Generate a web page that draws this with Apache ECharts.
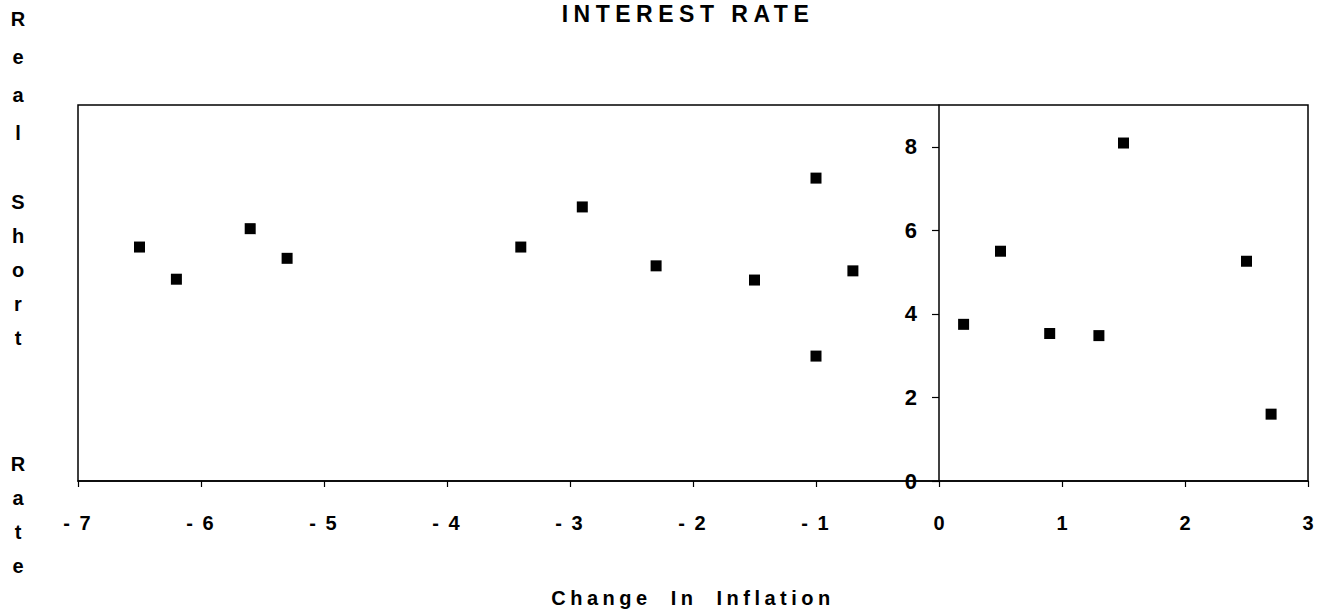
<!DOCTYPE html>
<html>
<head>
<meta charset="utf-8">
<script src="https://cdn.jsdelivr.net/npm/echarts@6/dist/echarts.min.js"></script>
<style>
  html, body { margin: 0; padding: 0; background: #fff; }
  #chart { width: 1321px; height: 613px; }
</style>
</head>
<body>
<div id="chart"></div>
<script>
const inflationChange = [-6.5, -6.2, -5.6, -5.3, -3.4, -2.9, -2.3, -1.5, -1.0, -1.0, -0.7, 0.2, 0.5, 0.9, 1.3, 1.5, 2.5, 2.7];
const realShortRate = [5.6, 4.83, 6.04, 5.33, 5.6, 6.56, 5.15, 4.81, 7.25, 2.99, 5.03, 3.75, 5.5, 3.53, 3.48, 8.09, 5.26, 1.6];

const titleText = 'INTEREST RATE';
const xName = 'Change In Inflation';
const yNameParts = ['R\ne\na\nl', 'S\nh\no\nr\nt', 'R\na\nt\ne'];

const font = 'Liberation Sans, Arial, Helvetica, sans-serif';

let points = [];
for (let i = 0; i < inflationChange.length; i++) {
  points.push([inflationChange[i], realShortRate[i]]);
}

var chart = echarts.init(document.getElementById('chart'), null, { renderer: 'svg' });

// grid is 1230px wide for x -7..3, so x = 0 sits 7/10 of the way in
const gridLeft = 78, gridRight = 13;
const gridWidth = 1321 - gridLeft - gridRight;
const yAxisOffset = -gridWidth * 7 / 10;

let option = {
  animation: false,
  backgroundColor: '#fff',
  grid: {
    left: gridLeft, right: gridRight, top: 105, bottom: 132,
    show: true, borderColor: '#000', borderWidth: 1.5
  },
  graphic: [
    { type: 'text', x: 688, y: 14, style: { text: titleText, font: 'bold 23px ' + font, fill: '#000', textAlign: 'center', textVerticalAlign: 'middle' } },
    { type: 'text', x: 18, y: 0, style: { text: yNameParts[0], font: 'bold 20px ' + font, lineHeight: 38, fill: '#000', textAlign: 'center', textVerticalAlign: 'top' } },
    { type: 'text', x: 18, y: 185, style: { text: yNameParts[1], font: 'bold 20px ' + font, lineHeight: 34, fill: '#000', textAlign: 'center', textVerticalAlign: 'top' } },
    { type: 'text', x: 18, y: 447, style: { text: yNameParts[2], font: 'bold 20px ' + font, lineHeight: 34, fill: '#000', textAlign: 'center', textVerticalAlign: 'top' } }
  ],
  xAxis: {
    type: 'value',
    min: -7, max: 3, interval: 1,
    name: xName,
    nameLocation: 'middle',
    nameGap: 107,
    nameTextStyle: { fontFamily: font, fontSize: 20, fontWeight: 'bold', color: '#000' },
    axisLine: { onZero: true, lineStyle: { color: '#000', width: 1.5 } },
    axisTick: { length: 6, lineStyle: { color: '#000', width: 1.2 } },
    axisLabel: {
      margin: 32, fontFamily: font, fontSize: 20, fontWeight: 'bold', color: '#000',
      formatter: function (v) { return v < 0 ? '- ' + Math.abs(v) : String(v); }
    },
    splitLine: { show: false }
  },
  yAxis: {
    type: 'value',
    min: 0, max: 9, interval: 2,
    offset: yAxisOffset,
    axisLine: { onZero: false, lineStyle: { color: '#000', width: 1.5 } },
    axisTick: { length: 7, lineStyle: { color: '#000', width: 1.2 } },
    axisLabel: {
      margin: 22, fontFamily: font, fontSize: 22, fontWeight: 'bold', color: '#000',
      showMaxLabel: false
    },
    splitLine: { show: false }
  },
  series: [{
    type: 'scatter',
    data: points,
    symbol: 'rect',
    symbolSize: 11,
    itemStyle: { color: '#000', opacity: 1 }
  }]
};

chart.setOption(option);

// the scan has widely spaced lettering; svg text takes css letter-spacing
function spaceLetters() {
  document.querySelectorAll('#chart text').forEach(function (t) {
    let s = t.textContent;
    if (s === titleText) {
      t.style.letterSpacing = '5.5px';
    } else if (s === xName) {
      t.style.letterSpacing = '4.5px';
      t.style.wordSpacing = '9px';
    } else if (s.indexOf('- ') === 0) {
      t.style.letterSpacing = '2px';
    }
  });
}
spaceLetters();
chart.on('finished', spaceLetters);
</script>
</body>
</html>
